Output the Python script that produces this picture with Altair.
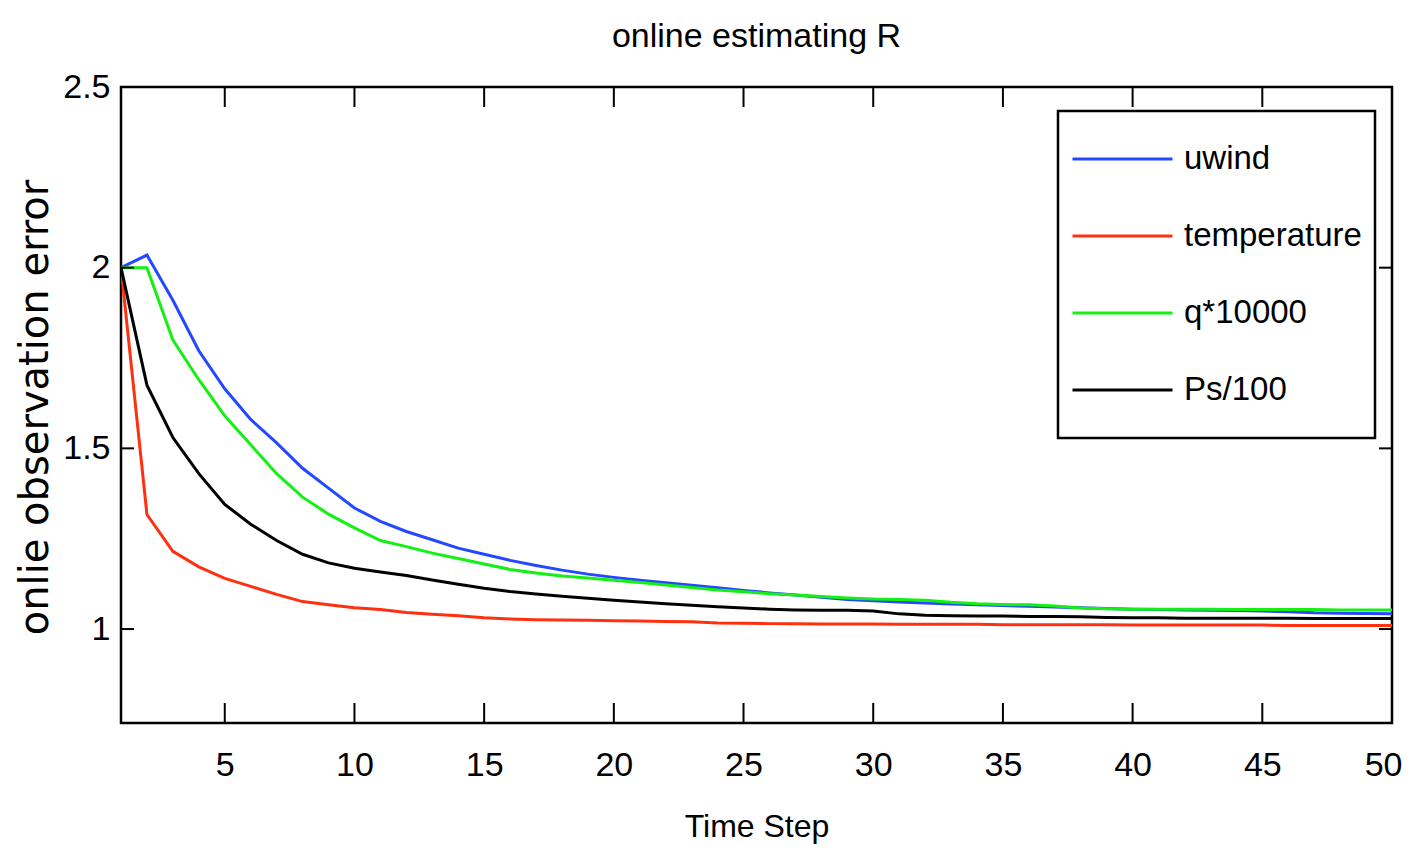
import altair as alt
import pandas as pd

# ---------------- data ----------------
steps = list(range(1, 51))

uwind = [2.00, 2.035, 1.91, 1.77, 1.665, 1.58, 1.515, 1.445, 1.39, 1.335,
         1.298, 1.27, 1.247, 1.224, 1.207, 1.19, 1.176, 1.163, 1.152, 1.143,
         1.135, 1.128, 1.121, 1.114, 1.107, 1.100, 1.094, 1.088, 1.082, 1.078,
         1.075, 1.072, 1.069, 1.067, 1.065, 1.063, 1.061, 1.059, 1.057, 1.055,
         1.054, 1.053, 1.052, 1.051, 1.050, 1.048, 1.045, 1.044, 1.043, 1.042]

temperature = [2.00, 1.317, 1.215, 1.172, 1.14, 1.118, 1.096, 1.076, 1.067, 1.059,
               1.054, 1.046, 1.041, 1.037, 1.031, 1.028, 1.026, 1.025, 1.024, 1.023,
               1.022, 1.021, 1.020, 1.017, 1.016, 1.015, 1.015, 1.014, 1.014, 1.014,
               1.013, 1.013, 1.013, 1.013, 1.012, 1.012, 1.012, 1.012, 1.012, 1.011,
               1.011, 1.011, 1.011, 1.011, 1.011, 1.010, 1.010, 1.010, 1.010, 1.010]

q10000 = [2.00, 2.00, 1.80, 1.69, 1.59, 1.51, 1.43, 1.365, 1.318, 1.28,
          1.245, 1.228, 1.21, 1.195, 1.18, 1.165, 1.155, 1.147, 1.141, 1.135,
          1.129, 1.122, 1.115, 1.108, 1.103, 1.098, 1.094, 1.090, 1.086, 1.083,
          1.082, 1.080, 1.074, 1.070, 1.068, 1.067, 1.064, 1.058, 1.056, 1.055,
          1.055, 1.055, 1.055, 1.054, 1.054, 1.054, 1.054, 1.053, 1.053, 1.053]

ps100 = [2.00, 1.675, 1.53, 1.43, 1.345, 1.29, 1.245, 1.207, 1.183, 1.168,
         1.158, 1.148, 1.136, 1.124, 1.113, 1.104, 1.097, 1.091, 1.085, 1.080,
         1.075, 1.070, 1.066, 1.062, 1.058, 1.055, 1.053, 1.052, 1.052, 1.050,
         1.042, 1.038, 1.037, 1.036, 1.036, 1.035, 1.035, 1.034, 1.032, 1.031,
         1.031, 1.030, 1.030, 1.030, 1.030, 1.030, 1.029, 1.029, 1.029, 1.029]

series_names = ["uwind", "temperature", "q*10000", "Ps/100"]
series_colors = ["#2448ff", "#ff3010", "#14f014", "#000000"]
x_ticks = [5, 10, 15, 20, 25, 30, 35, 40, 45, 50]
y_ticks = [1, 1.5, 2, 2.5]

rows = []
for k, (name, vals) in enumerate(zip(series_names, [uwind, temperature, q10000, ps100])):
    for t, v in zip(steps, vals):
        rows.append({"step": t, "value": v, "series": name, "k": k})
df = pd.DataFrame(rows)

# ---------------- chart ----------------
W, H = 1271, 636
FONT = "Liberation Sans, Arial, sans-serif"

xs = alt.Scale(domain=[1, 50], nice=False, zero=False)
ys = alt.Scale(domain=[0.74, 2.5], nice=False, zero=False)

lines = alt.Chart(df).mark_line(strokeWidth=3, clip=True).encode(
    x=alt.X("step:Q", scale=xs,
            axis=alt.Axis(values=x_ticks, title="Time Step", grid=False, ticks=False,
                          tickSize=0, domain=False, labelFont=FONT, labelFontSize=34,
                          labelColor="black", labelPadding=25, labelFlush=True,
                          labelFlushOffset=10, titleFont=FONT, titleFontSize=32,
                          titleFontWeight="normal", titleColor="black",
                          titleBaseline="alphabetic", titleX=W / 2, titleY=113,
                          titleAlign="center")),
    y=alt.Y("value:Q", scale=ys,
            axis=alt.Axis(values=y_ticks, format="~g", title="onlie observation error",
                          grid=False, ticks=False, tickSize=0, domain=False,
                          labelFont=FONT, labelFontSize=34, labelColor="black",
                          labelPadding=11, titleFont="DejaVu Sans", titleFontSize=40,
                          titleFontWeight="normal", titleColor="black",
                          titleBaseline="alphabetic", titleAngle=270, titleX=-74,
                          titleY=H / 2 + 2, titleAlign="center")),
    color=alt.Color("series:N",
                    scale=alt.Scale(domain=series_names, range=series_colors),
                    legend=alt.Legend(title=None, orient="none", legendX=937, legendY=24,
                                      symbolType="stroke", symbolSize=10000,
                                      symbolStrokeWidth=3, labelFont=FONT,
                                      labelFontSize=33, labelColor="black",
                                      labelLimit=500, labelOffset=10, clipHeight=70,
                                      rowPadding=7, padding=13, strokeColor="black",
                                      fillColor="white")),
    order=alt.Order("k:Q"),
)

xt = pd.DataFrame({"step": x_ticks})
yt = pd.DataFrame({"value": y_ticks})

tick_bottom = alt.Chart(xt).mark_rule(color="black", strokeWidth=2).encode(
    x=alt.X("step:Q", scale=xs), y=alt.value(H), y2=alt.value(H - 20))
tick_top = alt.Chart(xt).mark_rule(color="black", strokeWidth=2).encode(
    x=alt.X("step:Q", scale=xs), y=alt.value(0), y2=alt.value(20))
tick_left = alt.Chart(yt).mark_rule(color="black", strokeWidth=2).encode(
    y=alt.Y("value:Q", scale=ys), x=alt.value(0), x2=alt.value(13))
tick_right = alt.Chart(yt).mark_rule(color="black", strokeWidth=2).encode(
    y=alt.Y("value:Q", scale=ys), x=alt.value(W), x2=alt.value(W - 13))

chart = alt.layer(lines, tick_bottom, tick_top, tick_left, tick_right).properties(
    width=W, height=H,
    title=alt.TitleParams("online estimating R", font=FONT, fontSize=34,
                          fontWeight="normal", color="black", anchor="middle",
                          offset=16),
    padding={"left": 113, "top": 79, "right": 12, "bottom": 125},
    autosize="none",
    background="white",
).configure_view(stroke="black", strokeWidth=2.5).configure_legend(strokeWidth=2.5)

chart.save("out.html", embed_options={"renderer": "svg", "actions": False})
